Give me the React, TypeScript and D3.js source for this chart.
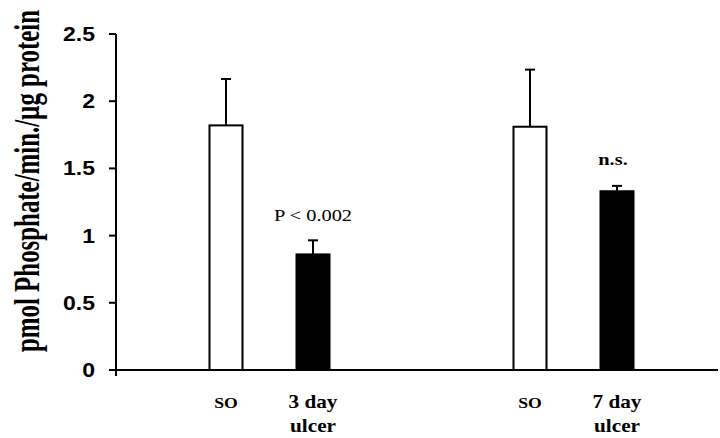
import * as d3 from "d3";

const groups = ["3 day", "7 day"];
const conditions = ["SO", "ulcer"];
const means = [1.82, 0.86, 1.81, 1.33];
const errors = [0.345, 0.105, 0.425, 0.04];
const notes = ["", "P < 0.002", "", "n.s."];
const yTicks = [0, 0.5, 1, 1.5, 2, 2.5];

const W = 720;
const H = 438;
const SERIF = "Liberation Serif, Times New Roman, serif";
const SANS = "Liberation Sans, Arial, sans-serif";

// the scan is stretched sideways, so text gets a horizontal scale
const Label = ({ x, y, sx = 1.18, anchor = "middle", children, ...rest }: any) => (
  <g transform={`translate(${x},${y}) scale(${sx},1)`}>
    <text textAnchor={anchor} {...rest}>
      {children}
    </text>
  </g>
);

const App = () => {
  const y = d3.scaleLinear().domain([0, 2.5]).range([370, 34]);
  const x0 = d3.scaleBand().domain(groups).range([117.5, 725.5]);
  const x1 = d3.scalePoint().domain(conditions).range([-43.5, 43.5]);
  const barW = 33;

  const bars = groups.flatMap((g, gi) =>
    conditions.map((c, ci) => {
      const i = gi * conditions.length + ci;
      return {
        g,
        c,
        cx: x0(g)! + x0.bandwidth() / 2 + x1(c)!,
        v: means[i],
        e: errors[i],
        note: notes[i],
        filled: ci === 1,
      };
    })
  );

  return (
    <svg width={W} height={H} style={{ position: "absolute", left: 0, top: 0, background: "#fff" }}>
      {/* y axis */}
      <line x1={116} x2={116} y1={y(2.5)} y2={y(0) + 6} stroke="#000" strokeWidth={2} />
      {yTicks.map((t) => (
        <g key={t}>
          <line x1={109} x2={116} y1={y(t)} y2={y(t)} stroke="#000" strokeWidth={2} />
          <Label x={95} y={y(t) + 7} sx={1.15} anchor="end" fontFamily={SANS} fontWeight="bold" fontSize={20}>
            {t}
          </Label>
        </g>
      ))}
      <g transform="translate(38.5,181) scale(1.4,1) rotate(-90)">
        <text
          textAnchor="middle"
          fontFamily={SERIF}
          fontWeight="bold"
          fontSize={25}
          textLength={342}
          lengthAdjust="spacingAndGlyphs"
        >
          pmol Phosphate/min./µg protein
        </text>
      </g>

      {bars.map((b, i) => (
        <g key={i}>
          <line x1={b.cx} x2={b.cx} y1={y(b.v)} y2={y(b.v + b.e)} stroke="#000" strokeWidth={2} />
          <line x1={b.cx - 5} x2={b.cx + 5} y1={y(b.v + b.e)} y2={y(b.v + b.e)} stroke="#000" strokeWidth={2} />
          <rect
            x={b.cx - barW / 2}
            y={y(b.v)}
            width={barW}
            height={y(0) - y(b.v)}
            fill={b.filled ? "#000" : "#fff"}
            stroke="#000"
            strokeWidth={2}
          />
          {b.note && (
            <Label
              x={b.cx + (b.note === "n.s." ? -4 : 0)}
              y={y(b.v + b.e) - (b.note === "n.s." ? 21 : 19)}
              sx={1.2}
              fontFamily={SERIF}
              fontWeight={b.note === "n.s." ? "bold" : "normal"}
              fontSize={17}
            >
              {b.note}
            </Label>
          )}
          {b.c === "SO" ? (
            <Label x={b.cx} y={408} fontFamily={SERIF} fontWeight="bold" fontSize={15}>
              SO
            </Label>
          ) : (
            <>
              <Label x={b.cx} y={408} fontFamily={SERIF} fontWeight="bold" fontSize={18}>
                {b.g}
              </Label>
              <Label x={b.cx} y={432} fontFamily={SERIF} fontWeight="bold" fontSize={18}>
                ulcer
              </Label>
            </>
          )}
        </g>
      ))}

      {/* x axis */}
      <line x1={116} x2={718} y1={y(0)} y2={y(0)} stroke="#000" strokeWidth={2} />
    </svg>
  );
};

export default App;
